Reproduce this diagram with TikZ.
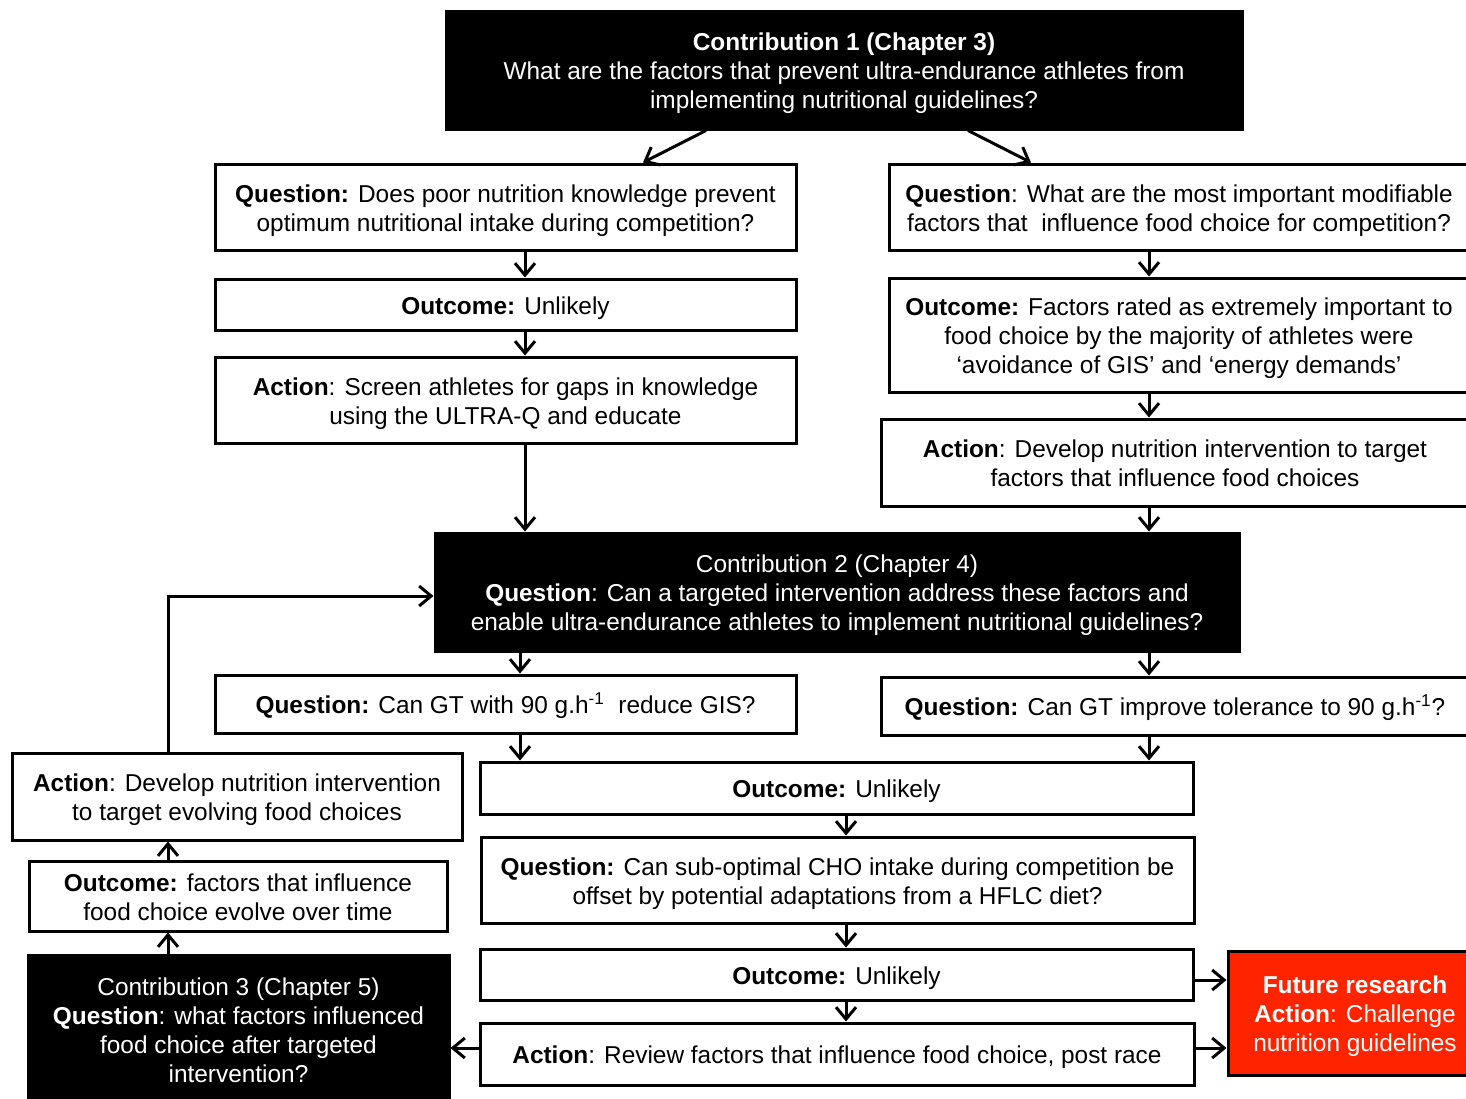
\documentclass[tikz,border=0pt]{standalone}
\usepackage{fontspec}
\setmainfont{Liberation Sans}
\usetikzlibrary{arrows.meta}
\definecolor{futred}{RGB}{255,36,0}
\newcommand\bx[7]{\node[#6, minimum width={(#4-#2)*0.5pt}, minimum height={(#5-#3)*0.5pt}] (#1) at ({(#2+#4)/2},{(#3+#5)/2}) {\rule{0pt}{12.6pt}#7\rule[-3pt]{0pt}{3pt}};}
\begin{document}
\begin{tikzpicture}[x=0.5pt,y=-0.5pt,
  font=\fontsize{12.2}{14.4}\selectfont,
  base/.style={draw=black, line width=1.5pt, inner sep=0pt, align=center},
  wbox/.style={base, fill=white, text=black},
  kbox/.style={base, fill=black, text=white},
  rbox/.style={base, fill=futred, text=white},
  arr/.style={line width=1.5pt, -{Straight Barb[length=6pt,width=10pt,line width=1.5pt]}},
]
\useasboundingbox (0,0) rectangle (1466,1098);
\fill[white] (0,0) rectangle (1466,1098);

% top contribution
\bx{c1}{446}{11}{1242}{129}{kbox}{\textbf{Contribution 1 (Chapter 3)}\\What are the factors that prevent ultra-endurance athletes from\\implementing nutritional guidelines?}

% left column
\bx{q1l}{215}{164}{796}{250}{wbox}{\textbf{Question:} Does poor nutrition knowledge prevent\\optimum nutritional intake during competition?}
\bx{o1l}{215}{279}{796}{330}{wbox}{\textbf{Outcome:} Unlikely}
\bx{a1l}{215}{357}{796}{443}{wbox}{\textbf{Action}: Screen athletes for gaps in knowledge\\using the ULTRA-Q and educate}

% right column
\bx{q1r}{889}{164}{1469}{250}{wbox}{\textbf{Question}: What are the most important modifiable\\factors that\ \ influence food choice for competition?}
\bx{o1r}{889}{278}{1469}{392}{wbox}{\textbf{Outcome:} Factors rated as extremely important to\\food choice by the majority of athletes were\\‘avoidance of GIS’ and ‘energy demands’}
\bx{a1r}{881}{419}{1469}{506}{wbox}{\textbf{Action}: Develop nutrition intervention to target\\factors that influence food choices}

% contribution 2
\bx{c2}{435}{533}{1239}{651}{kbox}{Contribution 2 (Chapter 4)\\\textbf{Question}: Can a targeted intervention address these factors and\\enable ultra-endurance athletes to implement nutritional guidelines?}

\bx{q2l}{215}{675}{796}{733}{wbox}{\textbf{Question:} Can GT with 90 g.h\textsuperscript{-1}\ \ reduce GIS?}
\bx{q2r}{881}{677}{1469}{735}{wbox}{\textbf{Question:} Can GT improve tolerance to 90 g.h\textsuperscript{-1}?}

\bx{o2}{480}{762}{1193}{814}{wbox}{\textbf{Outcome:} Unlikely}
\bx{q3}{481}{837}{1194}{923}{wbox}{\textbf{Question:} Can sub-optimal CHO intake during competition be\\offset by potential adaptations from a HFLC diet?}
\bx{o3}{480}{949}{1193}{1000}{wbox}{\textbf{Outcome:} Unlikely}
\bx{a3}{480}{1023}{1194}{1085}{wbox}{\textbf{Action}: Review factors that influence food choice, post race}

\bx{fr}{1228}{951}{1482}{1075}{rbox}{\textbf{Future research}\\\textbf{Action}: Challenge\\nutrition guidelines}

% left loop
\bx{c3}{28}{955}{449}{1104}{kbox}{Contribution 3 (Chapter 5)\\\textbf{Question}: what factors influenced\\food choice after targeted\\intervention?}
\bx{o4}{29}{861}{447}{931}{wbox}{\textbf{Outcome:} factors that influence\\food choice evolve over time}
\bx{a4}{12}{753}{462}{840}{wbox}{\textbf{Action}: Develop nutrition intervention\\to target evolving food choices}

% column / row coordinates
\coordinate (xa) at (706,0);
\coordinate (xb) at (643,0);
\coordinate (xc) at (968,0);
\coordinate (xd) at (1031,0);
\coordinate (xl) at (525,0);
\coordinate (xr) at (1149,0);
\coordinate (xm) at (520,0);
\coordinate (xn) at (846,0);
\coordinate (xk) at (168,0);
\coordinate (ya) at (0,980);
\coordinate (yb) at (0,1048);
\coordinate (yc) at (0,596);

% connectors
\draw[arr] (c1.south -| xa) -- (q1l.north -| xb);
\draw[arr] (c1.south -| xc) -- (q1r.north -| xd);
\draw[arr] (q1l.south -| xl) -- (o1l.north -| xl);
\draw[arr] (o1l.south -| xl) -- (a1l.north -| xl);
\draw[arr] (a1l.south -| xl) -- (c2.north -| xl);
\draw[arr] (q1r.south -| xr) -- (o1r.north -| xr);
\draw[arr] (o1r.south -| xr) -- (a1r.north -| xr);
\draw[arr] (a1r.south -| xr) -- (c2.north -| xr);
\draw[arr] (c2.south -| xm) -- (q2l.north -| xm);
\draw[arr] (c2.south -| xr) -- (q2r.north -| xr);
\draw[arr] (q2l.south -| xm) -- (o2.north -| xm);
\draw[arr] (q2r.south -| xr) -- (o2.north -| xr);
\draw[arr] (o2.south -| xn) -- (q3.north -| xn);
\draw[arr] (q3.south -| xn) -- (o3.north -| xn);
\draw[arr] (o3.south -| xn) -- (a3.north -| xn);
\draw[arr] (o3.east |- ya) -- (fr.west |- ya);
\draw[arr] (a3.east |- yb) -- (fr.west |- yb);
\draw[arr] (a3.west |- yb) -- (c3.east |- yb);
\draw[arr] (c3.north -| xk) -- (o4.south -| xk);
\draw[arr] (o4.north -| xk) -- (a4.south -| xk);
\draw[arr] (a4.north -| xk) |- (c2.west |- yc);
\end{tikzpicture}
\end{document}
